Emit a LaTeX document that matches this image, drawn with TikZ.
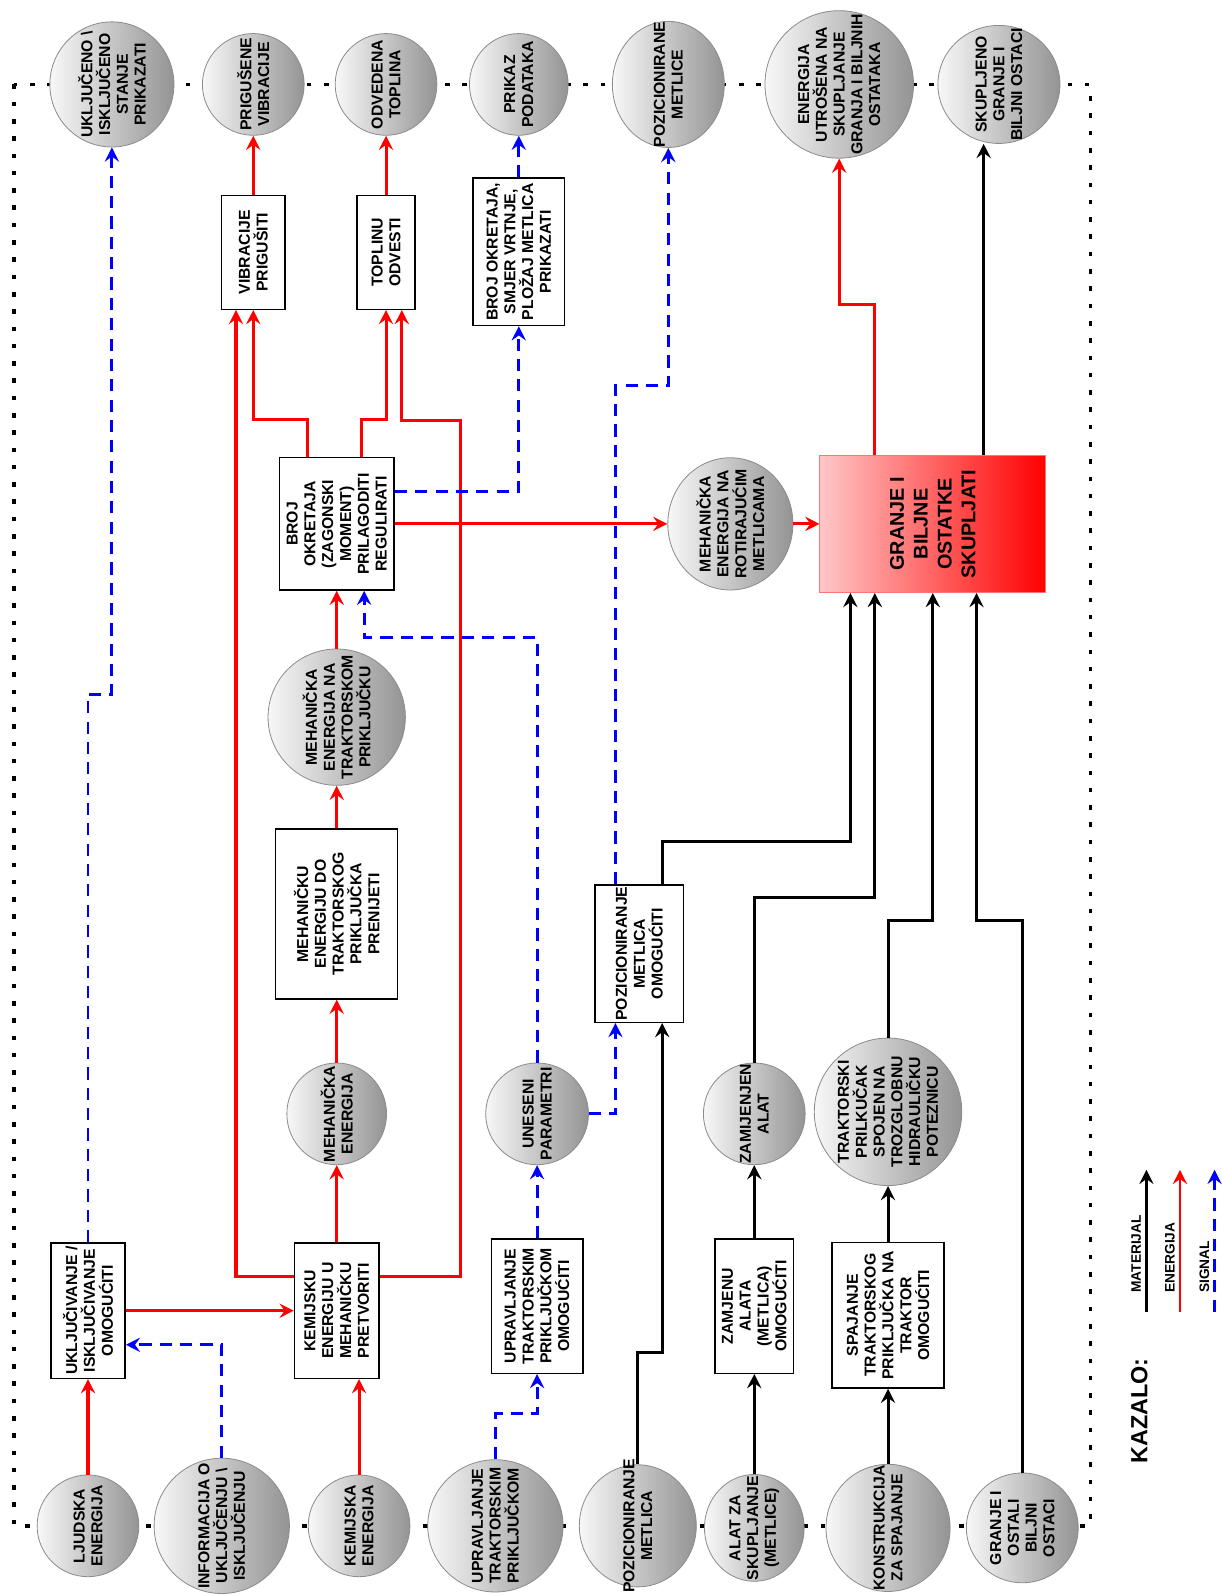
\documentclass[tikz,border=0pt]{standalone}
\usepackage{fontspec}
\setmainfont{Liberation Sans}
\usetikzlibrary{arrows.meta,shapes.geometric}

\begin{document}
\begin{tikzpicture}[x=1pt, y=-1pt,
  sz/.style 2 args={minimum width=#1pt, minimum height=#2pt},
  circ/.style={ellipse, draw=black!45, line width=0.8pt, left color=black!3, right color=black!42, inner sep=0pt},
  fun/.style={draw, line width=1.4pt, fill=white, inner sep=0pt},
  rt/.style={rotate=90, align=center, inner sep=0pt, font=\fontsize{15.5}{17.5}\selectfont\bfseries},
  lgd/.style={rotate=90, inner sep=0pt, font=\fontsize{13.5}{15}\selectfont\bfseries},
  tip/.style={-{Stealth[length=14pt, width=14pt, inset=5pt]}},
  en/.style={tip, draw=red, line width=3pt},
  mat/.style={tip, draw=black, line width=3pt},
  sig/.style={tip, draw=blue, line width=2.9pt, dash pattern=on 12pt off 8pt},
  frame/.style={line width=3.6pt, dash pattern=on 4.5pt off 12.5pt}
]
  \useasboundingbox (0,0) rectangle (1201,1568);

  % system border
  \draw[frame] (14,83) rectangle (1072,1500);

  % Outputs (top row)
  \node[circ, sz={122}{123}, label={[rt]center:UKLJUČENO \textbackslash\\ISKLJUČENO\\STANJE\\PRIKAZATI}] (stanje) at (110,83) {};
  \node[circ, sz={100}{100}, label={[rt]center:PRIGUŠENE\\VIBRACIJE}] (prig) at (249,83) {};
  \node[circ, sz={100}{100}, label={[rt]center:ODVEDENA\\TOPLINA}] (odv) at (379.5,83) {};
  \node[circ, sz={97}{100}, label={[rt]center:PRIKAZ\\PODATAKA}] (prikaz) at (510,83) {};
  \node[circ, sz={110}{124}, label={[rt]center:POZICIONIRANE\\METLICE}] (pozne) at (657,83) {};
  \node[circ, sz={146}{145}, label={[rt]center:ENERGIJA\\UTROŠENA NA\\SKUPLJANJE\\GRANJA I BILJNIH\\OSTATAKA}] (utros) at (825,83) {};
  \node[circ, sz={120}{116}, label={[rt]center:SKUPLJENO\\GRANJE I\\BILJNI OSTACI}] (skup) at (982,83) {};

  % Inputs (bottom row)
  \node[circ, sz={100}{100}, label={[rt]center:LJUDSKA\\ENERGIJA}] (ljud) at (86.5,1500) {};
  \node[circ, sz={133}{133}, label={[rt]center:INFORMACIJA O\\UKLJUČENJU \textbackslash\\ISKLJUČENJU}] (info) at (218,1500) {};
  \node[circ, sz={100}{100}, label={[rt]center:KEMIJSKA\\ENERGIJA}] (kem) at (353,1500) {};
  \node[circ, sz={133}{130}, label={[rt]center:UPRAVLJANJE\\TRAKTORSKIM\\PRIKLJUČKOM}] (uprav) at (487,1500) {};
  \node[circ, sz={115}{120}, label={[rt]center:POZICIONIRANJE\\METLICA}] (pozmet) at (627,1500) {};
  \node[circ, sz={98}{105}, label={[rt]center:ALAT ZA\\SKUPLJANJE\\(METLICE)}] (alat) at (741.5,1502) {};
  \node[circ, sz={122}{125}, label={[rt]center:KONSTRUKCIJA\\ZA SPAJANJE}] (konstr) at (873,1502) {};
  \node[circ, sz={110}{108}, label={[rt]center:GRANJE I\\OSTALI\\BILJNI\\OSTACI}] (ostali) at (1005,1502) {};

  % Functions
  \node[fun, sz={73}{133}, label={[rt]center:UKLJUČIVANJE /\\ISKLJUČIVANJE\\OMOGUĆITI}] (uklj) at (86.5,1288.5) {};
  \node[fun, sz={83}{133}, label={[rt]center:KEMIJSKU\\ENERGIJU U\\MEHANIČKU\\PRETVORITI}] (kemu) at (331,1288.5) {};
  \node[fun, sz={90}{132}, label={[rt]center:UPRAVLJANJE\\TRAKTORSKIM\\PRIKLJUČKOM\\OMOGUĆITI}] (upr) at (528,1284) {};
  \node[fun, sz={77}{132}, label={[rt]center:ZAMJENU\\ALATA\\(METLICA)\\OMOGUĆITI}] (zamj) at (741.5,1284) {};
  \node[fun, sz={110}{143}, label={[rt]center:SPAJANJE\\TRAKTORSKOG\\PRIKLJUČKA NA\\TRAKTOR\\OMOGUĆITI}] (spaj) at (873,1293) {};
  \node[fun, sz={87}{135}, label={[rt]center:POZICIONIRANJE\\METLICA\\OMOGUĆITI}] (pozom) at (628.5,937.5) {};
  \node[fun, sz={120}{167}, label={[rt]center:MEHANIČKU\\ENERGIJU DO\\TRAKTORSKOG\\PRIKLJUČKA\\PRENIJETI}] (mehprn) at (331,898.5) {};
  \node[fun, sz={113}{130}, label={[rt]center:BROJ\\OKRETAJA\\(ZAGONSKI\\MOMENT)\\PRILAGODITI\\REGULIRATI}] (broj) at (331,515) {};
  \node[fun, sz={62}{112}, label={[rt]center:VIBRACIJE\\PRIGUŠITI}] (vib) at (249,248) {};
  \node[fun, sz={57}{112}, label={[rt]center:TOPLINU\\ODVESTI}] (topl) at (379.5,248) {};
  \node[fun, sz={90}{145}, label={[rt]center:{BROJ OKRETAJA,\\SMJER VRTNJE,\\PLOŽAJ METLICA\\PRIKAZATI}}] (prikazati) at (510,247.5) {};

  % Main function
  \node[draw=red!55, line width=0.8pt, left color=red!22, right color=red, inner sep=0pt, sz={222}{135},
    label={[rt, font=\fontsize{19.5}{23.5}\selectfont\bfseries]center:GRANJE I\\BILJNE\\OSTATKE\\SKUPLJATI}] (granje) at (917,515) {};

  % Intermediate states
  \node[circ, sz={98}{100}, label={[rt]center:MEHANIČKA\\ENERGIJA}] (mehen) at (331,1095) {};
  \node[circ, sz={135}{134}, label={[rt]center:MEHANIČKA\\ENERGIJA NA\\TRAKTORSKOM\\PRIKLJUČKU}] (mehtrakt) at (331,705) {};
  \node[circ, sz={101}{100}, label={[rt]center:UNESENI\\PARAMETRI}] (unes) at (528,1095) {};
  \node[circ, sz={100}{100}, label={[rt]center:ZAMIJENJEN\\ALAT}] (zamijenjen) at (741.5,1095) {};
  \node[circ, sz={145}{145}, label={[rt]center:TRAKTORSKI\\PRILKUČAK\\SPOJEN NA\\TROZGLOBNU\\HIDRAULIČKU\\POTEZNICU}] (traktorski) at (873,1093) {};
  \node[circ, sz={123}{130}, label={[rt]center:MEHANIČKA\\ENERGIJA NA\\ROTIRAJUĆIM\\METLICAMA}] (mehrot) at (718,515) {};

  % Energy
  \draw[en] (ljud) -- (uklj);
  \draw[en] (uklj) -- (kemu);
  \draw[en] (kem.north) -- (kem.north |- kemu.south);
  \draw[en] (kemu) -- (mehen);
  \draw[en] (mehen) -- (mehprn);
  \draw[en] (mehprn) -- (mehtrakt);
  \draw[en] (mehtrakt) -- (broj);
  \draw[en] ([yshift=33.5pt]kemu.west) -| ([xshift=-17pt]vib.south);
  \draw[en] ([yshift=33.5pt]kemu.east) -- ++(79.5,0) -- ++(0,-842) -| ([xshift=15.5pt]topl.south);
  \draw[en] ([xshift=-29pt]broj.north) -- ++(0,-37) -| (vib.south);
  \draw[en] ([xshift=24pt]broj.north) -- ++(0,-37) -| (topl.south);
  \draw[en] (vib) -- (prig);
  \draw[en] (topl) -- (odv);
  \draw[en] (broj) -- (mehrot);
  \draw[en] (mehrot) -- (granje);
  \draw[en] ([xshift=-57pt]granje.north) -- ++(0,-147.5) -| (utros.south);

  % Material
  \draw[mat] ([xshift=50pt]granje.north) -- ([xshift=-15pt]skup.south);
  \draw[mat] (pozmet.north) -- ++(0,-110) -| ([xshift=22.5pt]pozom.south);
  \draw[mat] ([xshift=22.5pt]pozom.north) -- ++(0,-42) -| ([xshift=-81pt]granje.south);
  \draw[mat] (alat) -- (zamj);
  \draw[mat] (zamj) -- (zamijenjen);
  \draw[mat] (zamijenjen.north) -- ++(0,-162) -| ([xshift=-57pt]granje.south);
  \draw[mat] (konstr) -- (spaj);
  \draw[mat] (spaj) -- (traktorski);
  \draw[mat] (traktorski.north) -- ++(0,-115.5) -| (granje.south);
  \draw[mat] (ostali.north) -- ++(0,-543) -| ([xshift=43pt]granje.south);

  % Signal
  \draw[sig] (info.north) |- ([yshift=-33.5pt]uklj.east);
  \draw[sig] (uklj.north) -- ++(0,-539) -| (stanje.south);
  \draw[sig] (uprav.north) -- ++(0,-45) -| (upr.south);
  \draw[sig] (upr) -- (unes);
  \draw[sig] (unes.north) -- ++(0,-418) -| ([xshift=27pt]broj.south);
  \draw[sig] (unes.east) -| ([xshift=-23.5pt]pozom.south);
  \draw[sig] ([xshift=-23.5pt]pozom.north) -- ++(0,-490) -| (pozne.south);
  \draw[sig] ([yshift=32pt]broj.east) -| (prikazati.south);
  \draw[sig] (prikazati) -- (prikaz);

  % Legend
  \coordinate (lm0) at (1127,1290); \coordinate (lm1) at (1127,1150);
  \coordinate (le0) at (1160,1290); \coordinate (le1) at (1160,1150);
  \coordinate (ls0) at (1194,1290); \coordinate (ls1) at (1194,1150);
  \draw[mat, line width=2.2pt] (lm0) -- (lm1);
  \draw[en, line width=2.2pt] (le0) -- (le1);
  \draw[sig, line width=2.2pt] (ls0) -- (ls1);
  \node[lgd, anchor=west] (lmat) at ([xshift=-10pt,yshift=19pt]lm0) {MATERIJAL};
  \node[lgd, anchor=west] (lene) at ([xshift=-10pt,yshift=19pt]le0) {ENERGIJA};
  \node[lgd, anchor=west] (lsig) at ([xshift=-10pt,yshift=19pt]ls0) {SIGNAL};
  \node[rt, font=\fontsize{23}{27}\selectfont\bfseries] (kazalo) at (1120,1387) {KAZALO:};
\end{tikzpicture}
\end{document}
